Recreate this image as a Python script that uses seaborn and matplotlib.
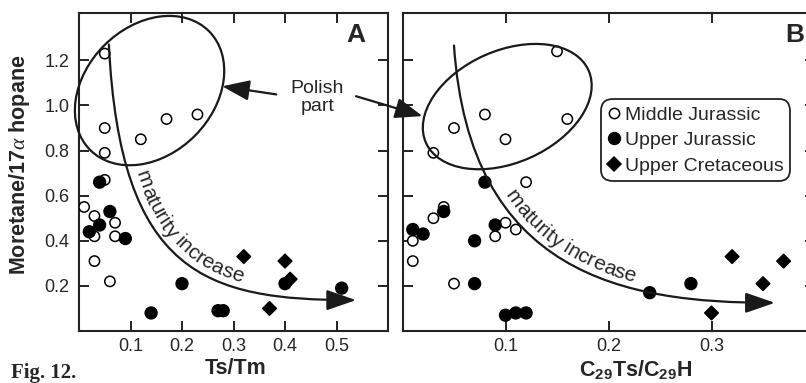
import numpy as np
import pandas as pd
import matplotlib
matplotlib.use("Agg")
import matplotlib.pyplot as plt
import seaborn as sns
from matplotlib.patches import Ellipse, FancyArrowPatch
from matplotlib.path import Path
from matplotlib.transforms import ScaledTranslation
from matplotlib.font_manager import FontProperties

# ---- data -------------------------------------------------------------
groups = ["Middle Jurassic", "Upper Jurassic", "Upper Cretaceous"]

# Panel A: Ts/Tm vs moretane/17a-hopane
a_mid_x = [0.05, 0.05, 0.05, 0.12, 0.17, 0.23, 0.05, 0.01, 0.03, 0.03, 0.07, 0.07, 0.03, 0.06]
a_mid_y = [1.23, 0.90, 0.79, 0.85, 0.94, 0.96, 0.67, 0.55, 0.51, 0.42, 0.48, 0.42, 0.31, 0.22]
a_upj_x = [0.04, 0.06, 0.04, 0.02, 0.09, 0.20, 0.14, 0.27, 0.28, 0.40, 0.51]
a_upj_y = [0.66, 0.53, 0.47, 0.44, 0.41, 0.21, 0.08, 0.09, 0.09, 0.21, 0.19]
a_cre_x = [0.32, 0.40, 0.41, 0.37]
a_cre_y = [0.33, 0.31, 0.23, 0.10]

# Panel B: C29Ts/C29H vs moretane/17a-hopane
b_mid_x = [0.15, 0.08, 0.16, 0.05, 0.10, 0.03, 0.12, 0.04, 0.03, 0.10, 0.11, 0.09, 0.01, 0.01, 0.05]
b_mid_y = [1.24, 0.96, 0.94, 0.90, 0.85, 0.79, 0.66, 0.55, 0.50, 0.48, 0.45, 0.42, 0.40, 0.31, 0.21]
b_upj_x = [0.08, 0.04, 0.01, 0.02, 0.09, 0.07, 0.07, 0.10, 0.11, 0.12, 0.24, 0.28]
b_upj_y = [0.66, 0.53, 0.45, 0.43, 0.47, 0.40, 0.21, 0.07, 0.08, 0.08, 0.17, 0.21]
b_cre_x = [0.32, 0.37, 0.35, 0.30]
b_cre_y = [0.33, 0.31, 0.21, 0.08]

a_xticks = [0.1, 0.2, 0.3, 0.4, 0.5]
b_xticks = [0.1, 0.2, 0.3]
y_ticks = [0.2, 0.4, 0.6, 0.8, 1.0, 1.2]

# guide curves (cubic Bezier control points) and "Polish part" ellipses
a_trend = [(0.058, 1.270), (0.080, 0.251), (0.247, 0.137), (0.538, 0.137)]
b_trend = [(0.050, 1.266), (0.065, 0.247), (0.216, 0.125), (0.3615, 0.125)]
a_ellipse = dict(center=(0.137, 1.066), width=1.68, height=1.28, angle=45)
b_ellipse = dict(center=(0.1017, 0.995), width=1.78, height=1.12, angle=24)


def frame(xs, ys):
    rows = []
    for g, x, y in zip(groups, xs, ys):
        rows += [dict(x=xi, y=yi, group=g) for xi, yi in zip(x, y)]
    return pd.DataFrame(rows)


df_a = frame([a_mid_x, a_upj_x, a_cre_x], [a_mid_y, a_upj_y, a_cre_y])
df_b = frame([b_mid_x, b_upj_x, b_cre_x], [b_mid_y, b_upj_y, b_cre_y])

# ---- style ------------------------------------------------------------
sns.set_style("ticks")
plt.rcParams["font.family"] = ["Liberation Sans", "DejaVu Sans"]
plt.rcParams["mathtext.fontset"] = "custom"
plt.rcParams["mathtext.rm"] = "Liberation Sans:bold"
plt.rcParams["mathtext.it"] = "Liberation Serif:italic"
plt.rcParams["mathtext.default"] = "regular"
plt.rcParams["axes.linewidth"] = 1.5

palette = {"Middle Jurassic": "white", "Upper Jurassic": "black", "Upper Cretaceous": "black"}
markers = {"Middle Jurassic": "o", "Upper Jurassic": "o", "Upper Cretaceous": "D"}
sizes = {"Middle Jurassic": 55, "Upper Jurassic": 72, "Upper Cretaceous": 48}

W, H = 806, 383
fig = plt.figure(figsize=(W / 100, H / 100), dpi=100)
ax_a = fig.add_axes([79 / W, 52 / H, 309 / W, 318 / H])
ax_b = fig.add_axes([402.5 / W, 52 / H, 412 / W, 318 / H])

for ax, df, show in [(ax_a, df_a, False), (ax_b, df_b, True)]:
    sns.scatterplot(data=df, x="x", y="y", hue="group", style="group", size="group",
                    hue_order=groups, style_order=groups, size_order=groups,
                    palette=palette, markers=markers, sizes=sizes,
                    edgecolor="black", linewidth=1.1, legend=show, ax=ax, zorder=3)
    ax.set_ylim(0, 1.41)
    ax.set_yticks(y_ticks)
    ax.tick_params(direction="in", length=7, width=1.4, top=True, right=True,
                   labelsize=13, color="#222222")
    ax.tick_params(axis="x", pad=5)
    ax.tick_params(axis="y", pad=7)
    for sp in ax.spines.values():
        sp.set_color("#222222")

ax_a.set_xlim(0, 0.6)
ax_a.set_xticks(a_xticks)
ax_a.set_yticklabels([f"{v:.1f}" for v in y_ticks])
ax_b.set_xlim(0, 0.4)
ax_b.set_xticks(b_xticks)
ax_b.set_yticklabels([])

ax_a.set_xlabel("Ts/Tm", fontsize=15.5, fontweight="bold")
ax_a.xaxis.set_label_coords(0.507, -0.085)
ax_a.set_ylabel("Moretane/17$\\mathit{\\alpha}$ hopane", fontsize=15.5, fontweight="bold")
ax_a.yaxis.set_label_coords(-0.152, 0.522)
ax_b.set_xlabel("C$_{29}$Ts/C$_{29}$H", fontsize=15.5, fontweight="bold")
ax_b.xaxis.set_label_coords(0.567, -0.085)
ax_b.set_ylabel("")

ax_a.text(0.896, 0.931, "A", transform=ax_a.transAxes, fontsize=19,
          fontweight="bold", ha="center", va="center")
ax_b.text(0.953, 0.931, "B", transform=ax_b.transAxes, fontsize=19,
          fontweight="bold", ha="center", va="center")

# legend
sns.move_legend(ax_b, "upper left", bbox_to_anchor=(0.483, 0.728), title=None,
                frameon=True, fontsize=14, borderaxespad=0, borderpad=0.35,
                handlelength=0.6, handletextpad=0.25, labelspacing=0.4,
                fancybox=True)
leg = ax_b.get_legend()
fr = leg.get_frame()
fr.set_edgecolor("#222222")
fr.set_linewidth(1.3)
fr.set_alpha(1)
fr.set_boxstyle("round,pad=0,rounding_size=0.6")
for h in leg.legend_handles:
    try:
        h.set_edgecolor("black")
    except AttributeError:
        h.set_markeredgecolor("black")

# ellipses around the Polish samples
for ax, el in [(ax_a, a_ellipse), (ax_b, b_ellipse)]:
    e = Ellipse((0, 0), el["width"], el["height"], angle=el["angle"],
                fill=False, lw=1.6, ec="#1a1a1a", clip_on=False, zorder=4,
                transform=fig.dpi_scale_trans + ScaledTranslation(*el["center"], ax.transData))
    ax.add_patch(e)

# maturity trend arrows
for ax, ctrl in [(ax_a, a_trend), (ax_b, b_trend)]:
    path = Path(ctrl, [Path.MOVETO, Path.CURVE4, Path.CURVE4, Path.CURVE4])
    arr = FancyArrowPatch(path=path, arrowstyle="-|>,head_length=1.3,head_width=0.45",
                          mutation_scale=14, lw=1.6, color="#1a1a1a", zorder=4,
                          transform=ax.transData)
    ax.add_patch(arr)


def text_along(ax, ctrl, label, t0, offset, fontsize):
    fig.canvas.draw()
    renderer = fig.canvas.get_renderer()
    prop = FontProperties(family="Liberation Sans", size=fontsize)
    p = ax.transData.transform(np.asarray(ctrl))
    t = np.linspace(0, 1, 4000)
    c = [(1 - t) ** 3, 3 * (1 - t) ** 2 * t, 3 * (1 - t) * t ** 2, t ** 3]
    b = sum(ci[:, None] * pi for ci, pi in zip(c, p))
    d = np.gradient(b, axis=0)
    ang = np.arctan2(d[:, 1], d[:, 0])
    off = b + offset * np.column_stack([-np.sin(ang), np.cos(ang)])
    s = np.concatenate([[0], np.cumsum(np.hypot(*np.diff(off, axis=0).T))])
    s0 = np.interp(t0, t, s)
    widths = [0.0] + [renderer.get_text_width_height_descent(label[:i + 1], prop, ismath=False)[0]
                      for i in range(len(label))]
    inv = ax.transData.inverted()
    for i, ch in enumerate(label):
        if ch == " ":
            continue
        sc = s0 + 0.5 * (widths[i] + widths[i + 1])
        x = np.interp(sc, s, off[:, 0])
        y = np.interp(sc, s, off[:, 1])
        a = np.degrees(np.interp(sc, s, np.unwrap(ang)))
        xd, yd = inv.transform((x, y))
        ax.text(xd, yd, ch, fontproperties=prop, rotation=a, rotation_mode="anchor",
                ha="center", va="baseline", zorder=5)


text_along(ax_a, a_trend, "maturity increase", 0.235, 6.5, 15)
text_along(ax_b, b_trend, "maturity increase", 0.29, 6.5, 15)

# "Polish part" label with arrows to both ellipses
ax_a.text(0.463, 1.035, "Polish\npart", ha="center", va="center", fontsize=14,
          linespacing=1.05)
aprops = dict(arrowstyle="-|>,head_length=1.2,head_width=0.45", mutation_scale=14,
              lw=1.6, color="#1a1a1a", shrinkA=0, shrinkB=0)
ax_a.annotate("", xy=(0.278, 1.085), xytext=(0.383, 1.049), arrowprops=aprops,
              annotation_clip=False)
ax_b.annotate("", xy=(0.0194, 0.953), xycoords="data", xytext=(0.538, 1.041),
              textcoords=ax_a.transData, arrowprops=aprops, annotation_clip=False)

fig.text(11 / W, (H - 378) / H, "Fig. 12.", family="Liberation Serif",
         fontweight="bold", fontsize=15, ha="left", va="baseline")

fig.savefig("out.png", dpi=100)
